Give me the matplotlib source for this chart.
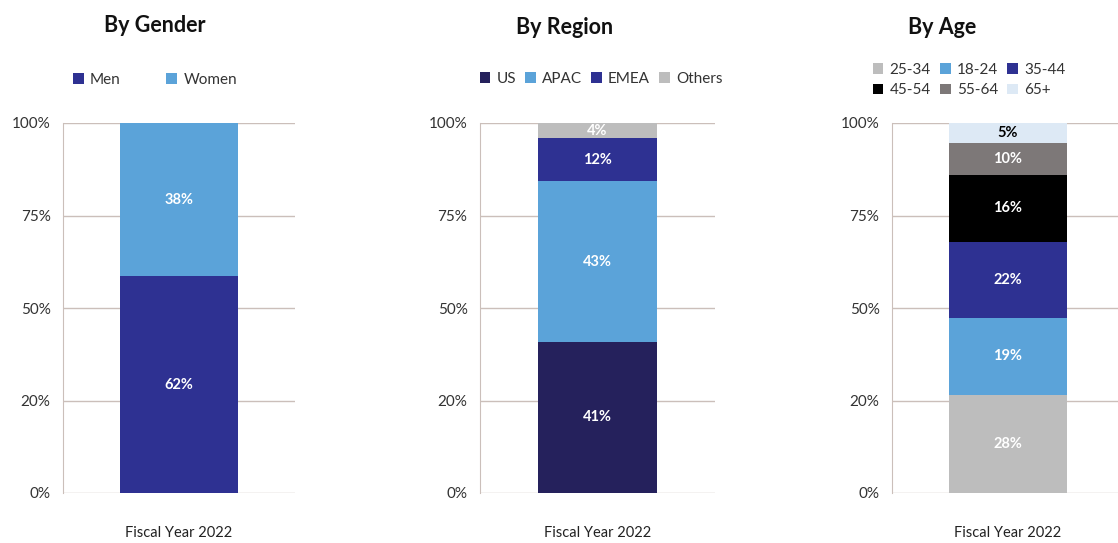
import numpy as np
import matplotlib
matplotlib.use('Agg')
import matplotlib.pyplot as plt
from matplotlib.patches import Patch

plt.rcParams['font.family'] = ['Lato', 'DejaVu Sans']

# segment heights as drawn (percent of bar), bottom to top, and the printed labels
gender_names = ['Men', 'Women']
gender_vals = [58.6, 41.4]
gender_labels = ['62%', '38%']
gender_colors = ['#2e3192', '#5ba3d9']

region_names = ['US', 'APAC', 'EMEA', 'Others']
region_vals = [40.9, 43.3, 11.7, 4.1]
region_labels = ['41%', '43%', '12%', '4%']
region_colors = ['#25215c', '#5ba3d9', '#2e3192', '#bdbdbd']

age_names = ['25-34', '18-24', '35-44', '45-54', '55-64', '65+']
age_vals = [26.6, 20.7, 20.5, 18.2, 8.7, 5.3]
age_labels = ['28%', '19%', '22%', '16%', '10%', '5%']
age_colors = ['#bdbdbd', '#5ba3d9', '#2e3192', '#000000', '#7d7878', '#dde9f5']

ytick_pos = [0, 25, 50, 75, 100]
ytick_labels = ['0%', '20%', '50%', '75%', '100%']
category = 'Fiscal Year 2022'

W, H = 1118, 543
fig = plt.figure(figsize=(W / 100, H / 100), dpi=100)
fig.patch.set_facecolor('white')

grid_col = '#cbbfba'


def make_axes(left_px, width_px):
    ax = fig.add_axes([left_px / W, (H - 493) / H, width_px / W, 370 / H])
    ax.set_ylim(0, 100)
    ax.set_xlim(-1, 1)
    ax.set_yticks(ytick_pos)
    ax.set_yticklabels(ytick_labels, fontsize=11, color='#333333')
    ax.set_xticks([0])
    ax.set_xticklabels([category], fontsize=10.5, color='#222222')
    ax.tick_params(axis='both', length=0)
    ax.tick_params(axis='y', pad=9)
    ax.tick_params(axis='x', pad=24)
    ax.yaxis.grid(True, color=grid_col, lw=1)
    ax.set_axisbelow(True)
    for s in ['top', 'right', 'bottom']:
        ax.spines[s].set_visible(False)
    ax.spines['left'].set_color(grid_col)
    return ax


def stack(ax, vals, labels, colors, text_colors):
    bottom = 0
    for v, lab, c, tc in zip(vals, labels, colors, text_colors):
        ax.bar(0, v, width=1.01, bottom=bottom, color=c, zorder=3)
        ax.text(0, bottom + v / 2, lab, ha='center', va='center',
                color=tc, fontsize=10.5, fontweight='bold', zorder=4)
        bottom += v


def square_legend(ax, names, colors, order, ncol, x, y, colsp):
    handles = [Patch(facecolor=colors[i], edgecolor='none') for i in order]
    fig.legend(handles, [names[i] for i in order], ncol=ncol, loc='center',
               bbox_to_anchor=(x / W, 1 - y / H), frameon=False,
               handlelength=0.7, handleheight=0.7, handletextpad=0.4,
               columnspacing=colsp, labelspacing=0.45, fontsize=11,
               labelcolor='#333333')


# By Gender
ax1 = make_axes(63, 232)
stack(ax1, gender_vals, gender_labels, gender_colors, ['white', 'white'])
fig.text(155 / W, 1 - 25 / H, 'By Gender', ha='center', va='center',
         fontsize=15.5, fontweight='bold', color='#111111')
square_legend(ax1, gender_names, gender_colors, [0, 1], 2, 155, 80, 3.0)

# By Region
ax2 = make_axes(480, 235)
stack(ax2, region_vals, region_labels, region_colors, ['white'] * 4)
fig.text(565 / W, 1 - 27 / H, 'By Region', ha='center', va='center',
         fontsize=15.5, fontweight='bold', color='#111111')
square_legend(ax2, region_names, region_colors, [0, 1, 2, 3], 4, 601, 79, 0.6)

# By Age
ax3 = make_axes(892, 232)
stack(ax3, age_vals, age_labels, age_colors,
      ['white', 'white', 'white', 'white', 'white', 'black'])
fig.text(942 / W, 1 - 27 / H, 'By Age', ha='center', va='center',
         fontsize=15.5, fontweight='bold', color='#111111')
square_legend(ax3, age_names, age_colors, [0, 3, 1, 4, 2, 5], 3, 969, 80, 0.6)

fig.savefig('out.png', dpi=100, facecolor='white')
